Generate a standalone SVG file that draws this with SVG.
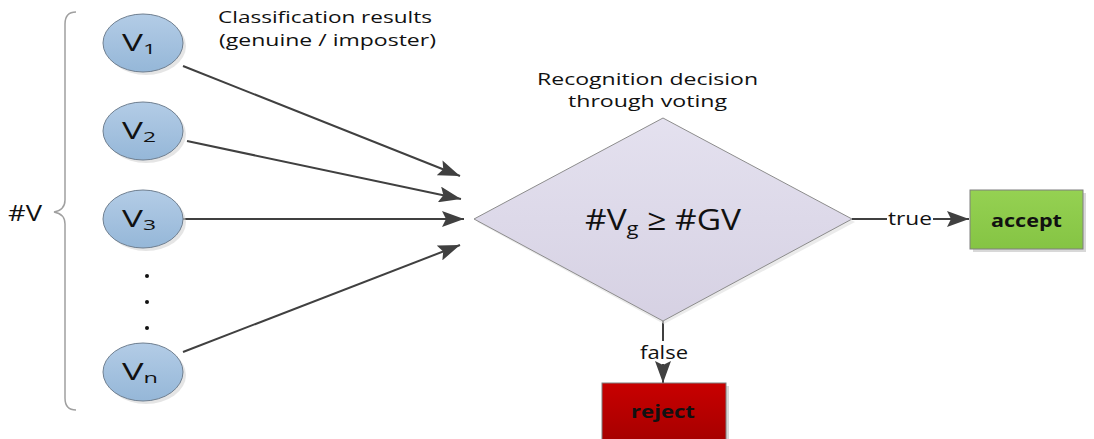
<svg xmlns="http://www.w3.org/2000/svg" width="1094" height="439" viewBox="0 0 1094 439">
<style>
text{font-family:"Open Sans","Liberation Sans",sans-serif;fill:#111}
.ell{fill:url(#gBlue);stroke:#6f7f90;stroke-width:1}
.shadow{fill:#d4d4d4;opacity:0.6}
.conn{stroke:#404040;stroke-width:2;fill:none}
.lbl{font-size:16.5px}
.vlbl{font-size:23px}
.sub{font-size:15px}
.bold{font-weight:bold;font-size:18px}
</style>
<defs>
<linearGradient id="gBlue" x1="0" y1="0" x2="0" y2="1">
<stop offset="0" stop-color="#b3cce6"/><stop offset="1" stop-color="#95b7d8"/>
</linearGradient>
<linearGradient id="gDia" x1="0" y1="0" x2="0" y2="1">
<stop offset="0" stop-color="#e4e1ef"/><stop offset="1" stop-color="#d6d1e3"/>
</linearGradient>
<linearGradient id="gRed" x1="0" y1="0" x2="0" y2="1">
<stop offset="0" stop-color="#c80000"/><stop offset="1" stop-color="#a50000"/>
</linearGradient>
<linearGradient id="gGreen" x1="0" y1="0" x2="0" y2="1">
<stop offset="0" stop-color="#95d152"/><stop offset="1" stop-color="#85c444"/>
</linearGradient>
<marker id="arr" viewBox="0 0 22 16" refX="22" refY="8" markerWidth="22" markerHeight="16" markerUnits="userSpaceOnUse" orient="auto">
<path d="M0,0 L22,8 L0,16 L4,8 Z" fill="#404040"/>
</marker>
</defs>

<g id="brace">
<path d="M76,12 Q65,12 65,24 L65,200 Q65,210 54,212 Q65,214 65,224 L65,398 Q65,410 76,410" fill="none" stroke="#a0a0a0" stroke-width="1.5"/>
<text x="8" y="221" font-size="21" textLength="34" lengthAdjust="spacingAndGlyphs">#V</text>
</g>

<g id="headings">
<text class="lbl" x="218" y="23" textLength="214" lengthAdjust="spacingAndGlyphs">Classification results</text>
<text class="lbl" x="219" y="46" textLength="217" lengthAdjust="spacingAndGlyphs">(genuine / imposter)</text>
<text class="lbl" x="537" y="85" textLength="221" lengthAdjust="spacingAndGlyphs">Recognition decision</text>
<text class="lbl" x="568" y="107" textLength="159" lengthAdjust="spacingAndGlyphs">through voting</text>
</g>

<g id="connectors">
<line class="conn" x1="183" y1="66" x2="460" y2="176" marker-end="url(#arr)"/>
<line class="conn" x1="187" y1="141" x2="461" y2="199" marker-end="url(#arr)"/>
<line class="conn" x1="183" y1="219" x2="464" y2="219" marker-end="url(#arr)"/>
<line class="conn" x1="183" y1="352" x2="460" y2="245" marker-end="url(#arr)"/>
<line class="conn" x1="852" y1="219" x2="887" y2="219"/>
<line class="conn" x1="933" y1="219" x2="969" y2="219" marker-end="url(#arr)"/>
<text x="888" y="225" font-size="19" textLength="44" lengthAdjust="spacingAndGlyphs">true</text>
<line class="conn" x1="663" y1="321" x2="663" y2="341"/>
<line class="conn" x1="663" y1="364" x2="663" y2="383" marker-end="url(#arr)"/>
<text x="640" y="359" font-size="19" textLength="48" lengthAdjust="spacingAndGlyphs">false</text>
</g>

<g id="v1">
<ellipse class="shadow" cx="146" cy="46" rx="40" ry="29"/>
<ellipse class="ell" cx="143" cy="43" rx="40" ry="29"/>
<text x="122" y="51" class="vlbl" textLength="34" lengthAdjust="spacingAndGlyphs">V<tspan class="sub" dy="3">1</tspan></text>
</g>
<g id="v2">
<ellipse class="shadow" cx="146" cy="134" rx="40" ry="29"/>
<ellipse class="ell" cx="143" cy="131" rx="40" ry="29"/>
<text x="122" y="139" class="vlbl" textLength="34" lengthAdjust="spacingAndGlyphs">V<tspan class="sub" dy="3">2</tspan></text>
</g>
<g id="v3">
<ellipse class="shadow" cx="146" cy="222" rx="40" ry="29"/>
<ellipse class="ell" cx="143" cy="219" rx="40" ry="29"/>
<text x="122" y="227" class="vlbl" textLength="34" lengthAdjust="spacingAndGlyphs">V<tspan class="sub" dy="3">3</tspan></text>
</g>
<g id="dots" fill="#111">
<circle cx="147" cy="276" r="2"/>
<circle cx="147" cy="302" r="2"/>
<circle cx="147" cy="328" r="2"/>
</g>
<g id="vn">
<ellipse class="shadow" cx="146" cy="375" rx="40" ry="29"/>
<ellipse class="ell" cx="143" cy="372" rx="40" ry="29"/>
<text x="122" y="380" class="vlbl" textLength="36" lengthAdjust="spacingAndGlyphs">V<tspan class="sub" dy="3">n</tspan></text>
</g>

<g id="decision">
<polygon points="664,121 855,222 664,324 477,222" fill="#dedede" opacity="0.6"/>
<polygon points="663,118 852,219 663,321 474,219" fill="url(#gDia)" stroke="#8c8c8c" stroke-width="1"/>
<text x="585" y="230" font-size="29" textLength="156" lengthAdjust="spacingAndGlyphs">#V<tspan font-size="19" dy="5">g</tspan><tspan dy="-5"> ≥ #GV</tspan></text>
</g>

<g id="accept">
<rect x="973" y="193" width="113" height="59" fill="#d8d8d8"/>
<rect x="970" y="190" width="113" height="59" fill="url(#gGreen)" stroke="#7f7f7f" stroke-width="1"/>
<text x="991" y="227" class="bold" textLength="71" lengthAdjust="spacingAndGlyphs">accept</text>
</g>

<g id="reject">
<rect x="605" y="386" width="124" height="60" fill="#d8d8d8"/>
<rect x="602" y="383" width="124" height="60" fill="url(#gRed)" stroke="#7f7f7f" stroke-width="1"/>
<text x="631" y="418" class="bold" textLength="64" lengthAdjust="spacingAndGlyphs">reject</text>
</g>
</svg>
